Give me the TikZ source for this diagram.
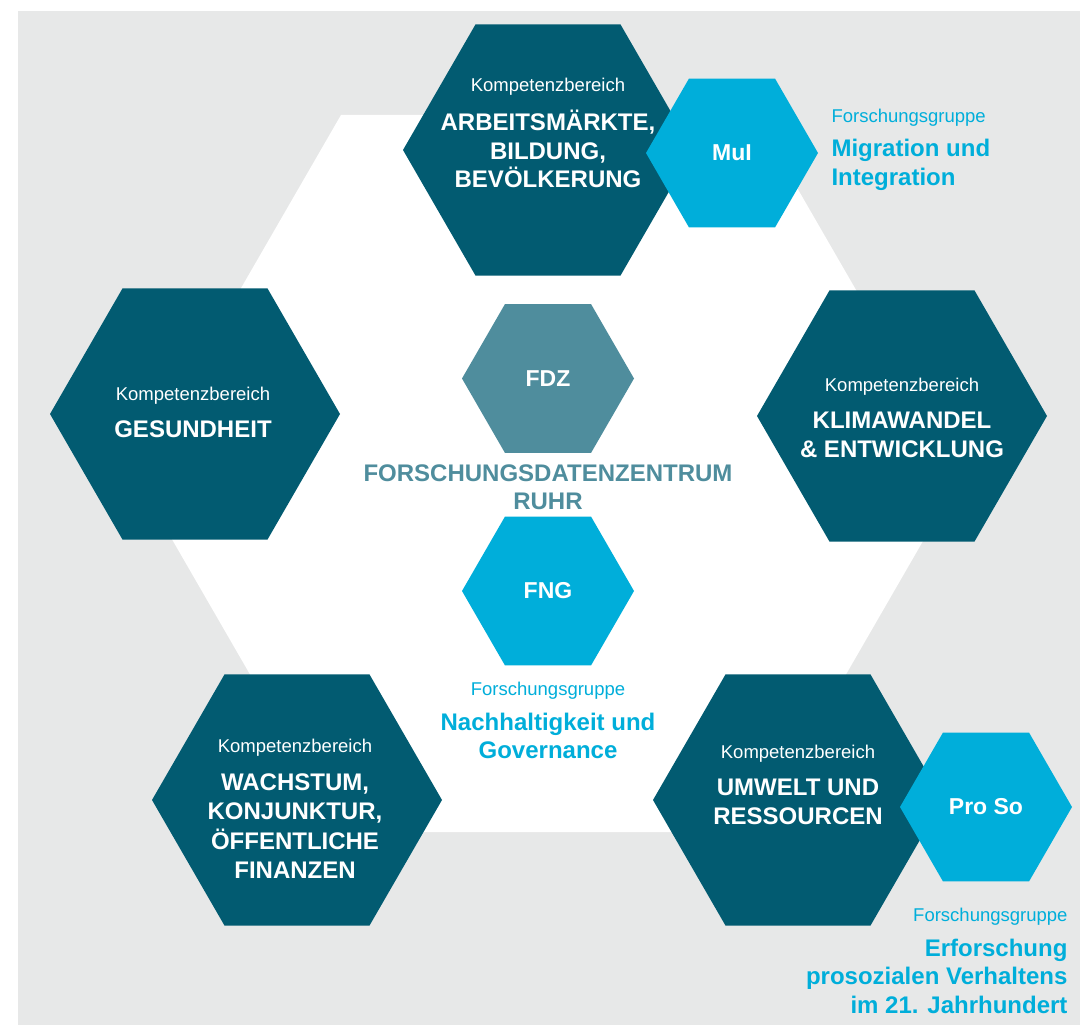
\documentclass[tikz,border=0pt]{standalone}
\usepackage{fontspec}
\setmainfont{Liberation Sans}
\usetikzlibrary{shapes.geometric}

\definecolor{ruhrgrau}{HTML}{E7E8E8}
\definecolor{kbteal}{HTML}{025B71}
\definecolor{fgblau}{HTML}{00AEDA}
\definecolor{fdzteal}{HTML}{4F8D9D}

\tikzset{
	hex/.style={regular polygon,regular polygon sides=6,inner sep=0pt,outer sep=0pt,minimum size=#1},
	kb/.style={hex=290pt,fill=kbteal},
	fg/.style={hex=172pt,fill=fgblau},
	klein/.style={font=\fontsize{18.5}{22}\selectfont},
	gross/.style={font=\fontsize{24}{28.5}\selectfont\bfseries,align=center},
	kurz/.style={font=\fontsize{23}{26}\selectfont\bfseries,text=white},
}

\begin{document}
\begin{tikzpicture}[x=1pt,y=-1pt]
		\useasboundingbox (0,0) rectangle (1080,1025);
		\fill[white] (0,0) rectangle (1080,1025);
		\fill[ruhrgrau] (18,11) rectangle (1080,1025);
		\node[hex=828pt,fill=white] (mitte) at (548,473.5) {};
		% Kompetenzbereiche
		\node[kb] (arbeit) at (548,150) {};
		\node[kb] (gesund) at (195,414) {};
		\node[kb] (klima) at (902,416) {};
		\node[kb] (wachstum) at (297,800) {};
		\node[kb] (umwelt) at (798,800) {};
		% Forschungsgruppen und FDZ
		\node[fg] (mul) at (732,153) {};
		\node[fg] (proso) at (986,807) {};
		\node[fg] (fng) at (548,591) {};
		\node[fg,fill=fdzteal] (fdz) at (548,378.5) {};
		\node[kurz] at (mul) {MuI};
		\node[kurz] at (proso) {Pro So};
		\node[kurz] at (fng.center) {FNG};
		\node[kurz] at (fdz) {FDZ};
		% Texte in den Sechsecken
		\node[klein,text=white] (k1) at (548,87) {Kompetenzbereich};
		\node[gross,text=white] (t1) at (548,149) {ARBEITSMÄRKTE,\\BILDUNG,\\BEVÖLKERUNG};
		\node[klein,text=white] (k2) at (193,396) {Kompetenzbereich};
		\node[gross,text=white] (t2) at (193,429) {GESUNDHEIT};
		\node[klein,text=white] (k3) at (902,387) {Kompetenzbereich};
		\node[gross,text=white] (t3) at (902,435) {KLIMAWANDEL\\\& ENTWICKLUNG};
		\node[klein,text=white] (k4) at (295,748) {Kompetenzbereich};
		\node[gross,text=white,font=\fontsize{24}{29.3}\selectfont\bfseries] (t4) at (295,826) {WACHSTUM,\\KONJUNKTUR,\\ÖFFENTLICHE\\FINANZEN};
		\node[klein,text=white] (k5) at (798,754) {Kompetenzbereich};
		\node[gross,text=white] (t5) at (798,802) {UMWELT UND\\RESSOURCEN};
		% Beschriftungen
		\node[gross,text=fdzteal] (fdzname) at (548,487) {FORSCHUNGSDATENZENTRUM\\RUHR};
		\node[klein,text=fgblau] (g1) at (548,691) {Forschungsgruppe};
		\node[gross,text=fgblau] (n1) at (548,736) {Nachhaltigkeit und\\Governance};
		\node[klein,text=fgblau,anchor=west] (g2) at (828,118) {Forschungsgruppe};
		\node[gross,text=fgblau,align=left,anchor=west] (n2) at (828,165) {Migration und\\Integration};
		\node[klein,text=fgblau,anchor=east] (g3) at (1071,917) {Forschungsgruppe};
		\node[gross,text=fgblau,align=right,anchor=east] (n3) at (1071,976) {Erforschung\\prosozialen Verhaltens\\im 21. Jahrhundert};
\end{tikzpicture}
\end{document}
